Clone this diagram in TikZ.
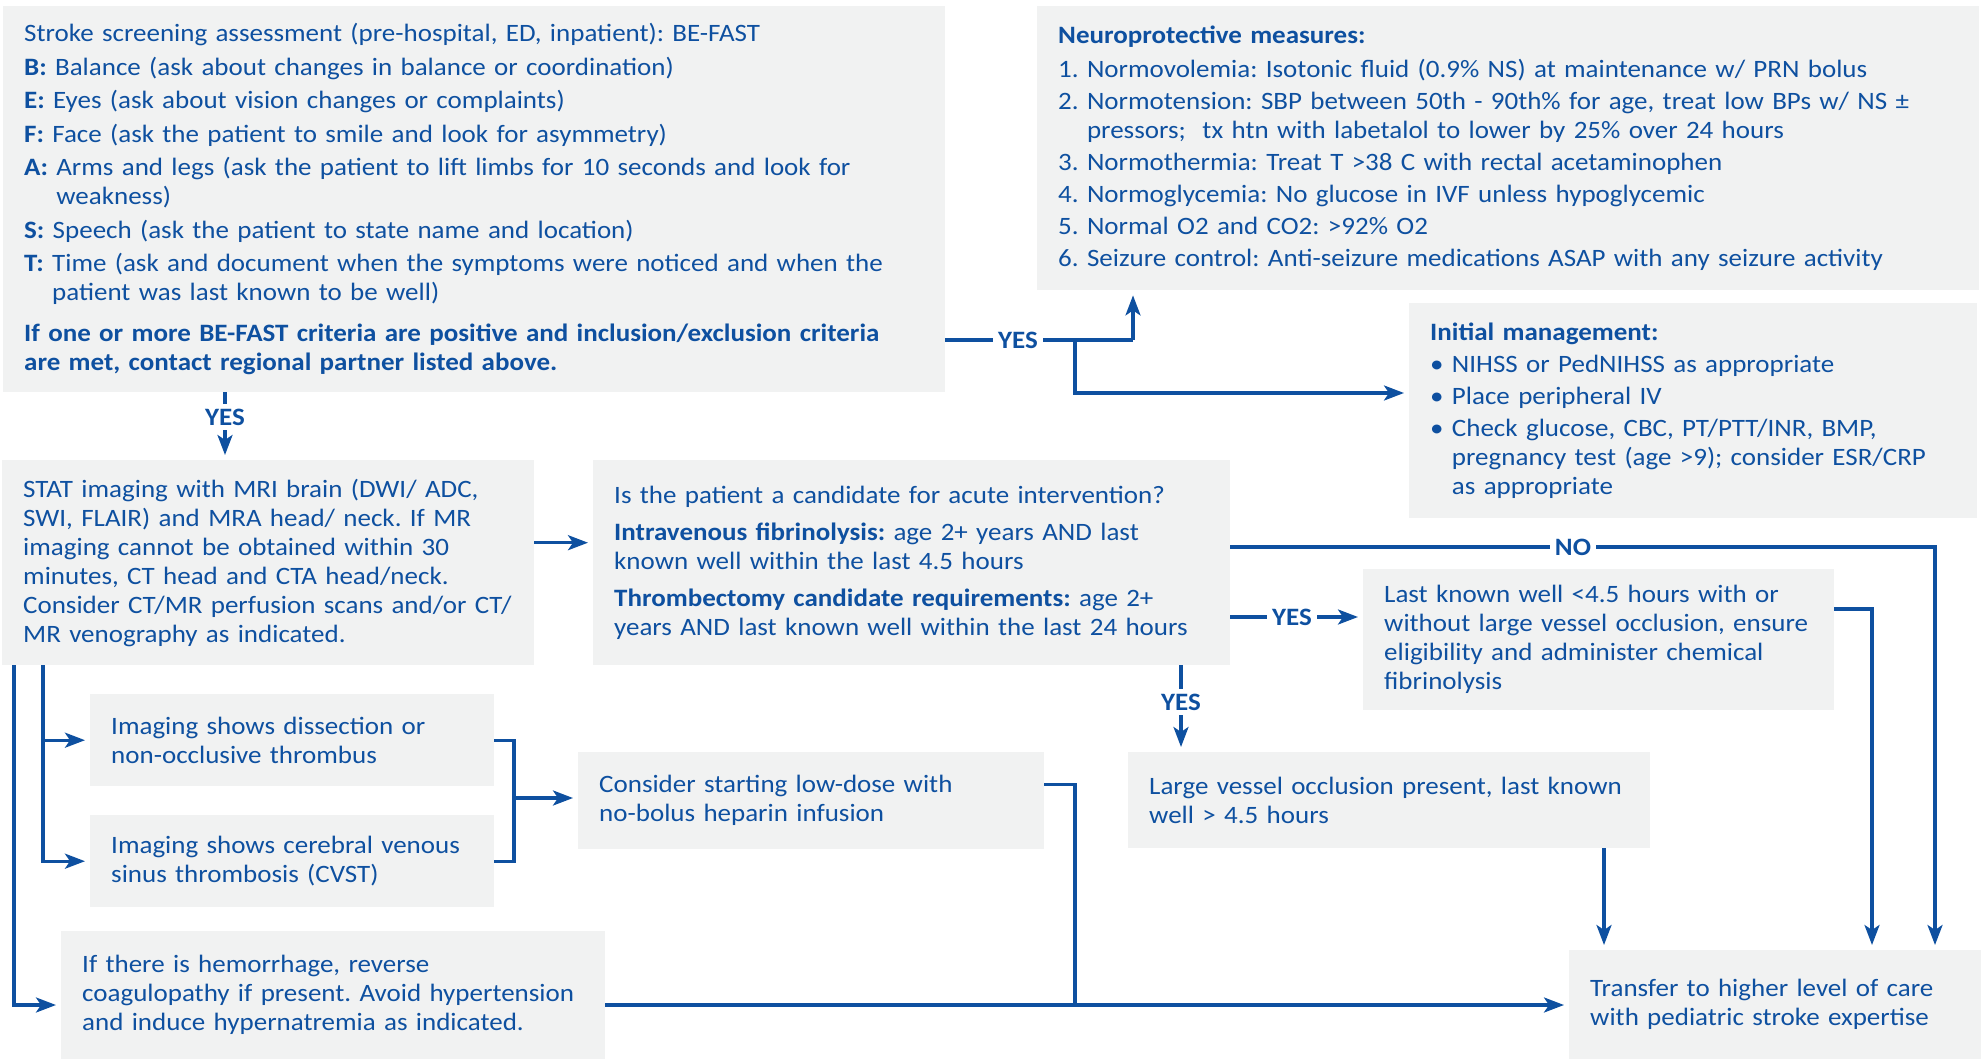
\documentclass[tikz,border=0pt]{standalone}
\usepackage{fontspec}
\setmainfont{Carlito}[FakeStretch=1.08]
\usepackage{tikz}
\usetikzlibrary{arrows.meta,calc,positioning}

\definecolor{strokeblue}{RGB}{14,80,160}
\definecolor{boxgrey}{RGB}{241,242,242}

\frenchspacing

\begin{document}
\begin{tikzpicture}
[
                  x =  1pt,
                  y = -1pt,
               ->, >= {Stealth[length=20pt,width=15pt,inset=5pt]},
               font = \fontsize{25}{29}\selectfont,
         box/.style = { draw=none, fill=boxgrey, text=strokeblue, anchor=north west, align=left, inner xsep=21pt, inner ysep=0pt },
      answer/.style = { draw=none, fill=none, text=strokeblue, font=\fontsize{25}{29}\selectfont\bfseries, inner sep=5pt },
        wire/.style = { draw=strokeblue, line width=3.2pt, - },
       arrow/.style = { draw=strokeblue, line width=3.2pt, ->, shorten >=5pt }
]

    \useasboundingbox (0,0) rectangle (1981,1059);

    \node (befast)   at (3,6)      [box, text width=900pt, minimum height=386pt]
        {Stroke screening assessment (pre-hospital, ED, inpatient): BE-FAST\\[4.5pt]
         \textbf{B:} Balance (ask about changes in balance or coordination)\\[4.5pt]
         \textbf{E:} Eyes (ask about vision changes or complaints)\\[4.5pt]
         \textbf{F:} Face (ask the patient to smile and look for asymmetry)\\[4.5pt]
         \textbf{A:} Arms and legs (ask the patient to lift limbs for 10 seconds and look for\\
         \hphantom{\textbf{A:} }weakness)\\[4.5pt]
         \textbf{S:} Speech (ask the patient to state name and location)\\[4.5pt]
         \textbf{T:} Time (ask and document when the symptoms were noticed and when the\\
         \hphantom{\textbf{T:} }patient was last known to be well)\\[12pt]
         \textbf{If one or more BE-FAST criteria are positive and inclusion/exclusion criteria}\\
         \textbf{are met, contact regional partner listed above.}};
    \node (neuro)    at (1037,6)   [box, text width=900pt, minimum height=284pt]
        {\textbf{Neuroprotective measures:}\\[5pt]
         1. Normovolemia: Isotonic fluid (0.9\% NS) at maintenance w/ PRN bolus\\[3pt]
         2. Normotension: SBP between 50th - 90th\% for age, treat low BPs w/ NS ±\\
         \hphantom{2. }pressors; \ tx htn with labetalol to lower by 25\% over 24 hours\\[3pt]
         3. Normothermia: Treat T >38 C with rectal acetaminophen\\[3pt]
         4. Normoglycemia: No glucose in IVF unless hypoglycemic\\[3pt]
         5. Normal O2 and CO2: >92\% O2\\[3pt]
         6. Seizure control: Anti-seizure medications ASAP with any seizure activity};
    \node (initial)  at (1409,303) [box, text width=526pt, minimum height=215pt]
        {\textbf{Initial management:}\\[3pt]
         \textbullet\ NIHSS or PedNIHSS as appropriate\\[3pt]
         \textbullet\ Place peripheral IV\\[3pt]
         \textbullet\ Check glucose, CBC, PT/PTT/INR, BMP,\\
         \hphantom{\textbullet\ }pregnancy test (age >9); consider ESR/CRP\\
         \hphantom{\textbullet\ }as appropriate};
    \node (stat)     at (2,460)    [box, text width=490pt, minimum height=205pt]
        {STAT imaging with MRI brain (DWI/ ADC,\\
         SWI, FLAIR) and MRA head/ neck. If MR\\
         imaging cannot be obtained within 30\\
         minutes, CT head and CTA head/neck.\\
         Consider CT/MR perfusion scans and/or CT/\\
         MR venography as indicated.};
    \node (cand)     at (593,460)  [box, text width=595pt, minimum height=205pt]
        {Is the patient a candidate for acute intervention?\\[8pt]
         \textbf{Intravenous fibrinolysis:} age 2+ years AND last\\
         known well within the last 4.5 hours\\[8pt]
         \textbf{Thrombectomy candidate requirements:} age 2+\\
         years AND last known well within the last 24 hours};
    \node (lkw)      at (1363,569) [box, text width=429pt, minimum height=141pt]
        {Last known well <4.5 hours with or\\
         without large vessel occlusion, ensure\\
         eligibility and administer chemical\\
         fibrinolysis};
    \node (dissect)  at (90,694)   [box, text width=362pt, minimum height=92pt]
        {Imaging shows dissection or\\
         non-occlusive thrombus};
    \node (cvst)     at (90,815)   [box, text width=362pt, minimum height=92pt]
        {Imaging shows cerebral venous\\
         sinus thrombosis (CVST)};
    \node (heparin)  at (578,752)  [box, text width=424pt, minimum height=97pt]
        {Consider starting low-dose with\\
         no-bolus heparin infusion};
    \node (lvo)      at (1128,752) [box, text width=480pt, minimum height=96pt]
        {Large vessel occlusion present, last known\\
         well > 4.5 hours};
    \node (hemo)     at (61,931)   [box, text width=502pt, minimum height=128pt]
        {If there is hemorrhage, reverse\\
         coagulopathy if present. Avoid hypertension\\
         and induce hypernatremia as indicated.};
    \node (transfer) at (1569,950) [box, text width=370pt, minimum height=109pt]
        {Transfer to higher level of care\\
         with pediatric stroke expertise};

    \node (yesneuro) at (1018,340) [answer] {YES};
    \node (yesstat)  at (225,417)  [answer] {YES};
    \node (nocand)   at (1573,547) [answer] {NO};
    \node (yeslkw)   at (1292,617) [answer] {YES};
    \node (yeslvo)   at (1181,702) [answer] {YES};

    \coordinate (neurofork)  at (1133,340);
    \coordinate (initfork)   at (1075,340);
    \coordinate (initbend)   at (1075,393);
    \coordinate (nocorner)   at (1935,547);
    \coordinate (lkwcorner)  at (1872,609);
    \coordinate (lvodrop)    at (1604,848);
    \coordinate (outerdrop)  at (14,665);
    \coordinate (innerdrop)  at (43,665);
    \coordinate (bracket)    at (514,798);
    \coordinate (hepdrop)    at (1075,1005);
    \coordinate (bottomrow)  at (0,1005);

    \draw [wire]  (befast.east |- yesneuro) -- (yesneuro.west);
    \draw [wire]  (yesneuro.east) -- (neurofork);
    \draw [arrow] (neurofork) -- (neuro.south -| neurofork);
    \draw [arrow] (initfork) -- (initbend) -- (initial.west |- initbend);

    \draw [wire]  (befast.south -| yesstat) -- (yesstat.north);
    \draw [arrow] (yesstat.south) -- (stat.north -| yesstat);
    \draw [arrow] ($(stat.east)+(0,-20)$) -- ($(cand.west)+(0,-20)$);

    \draw [wire]  (cand.east |- nocand) -- (nocand.west);
    \draw [arrow] (nocand.east) -| (transfer.north -| nocorner);
    \draw [wire]  (cand.east |- yeslkw) -- (yeslkw.west);
    \draw [arrow] (yeslkw.east) -- (lkw.west |- yeslkw);
    \draw [wire]  (cand.south -| yeslvo) -- (yeslvo.north);
    \draw [arrow] (yeslvo.south) -- (lvo.north -| yeslvo);

    \draw [arrow] (lkw.east |- lkwcorner) -| (transfer.north -| lkwcorner);
    \draw [arrow] (lvo.south -| lvodrop) -- (transfer.north -| lvodrop);

    \draw [arrow] (stat.south -| outerdrop) |- (hemo.west |- bottomrow);
    \draw [arrow] (stat.south -| innerdrop) |- (cvst.west);
    \draw [arrow] (innerdrop |- dissect.west) -- (dissect.west);
    \draw [wire]  (dissect.east) -| (bracket) |- (cvst.east);
    \draw [arrow] (bracket) -- (heparin.west |- bracket);
    \draw [wire]  ($(heparin.east)+(0,-16)$) -| (hepdrop);
    \draw [arrow] (hemo.east |- bottomrow) -- (transfer.west |- bottomrow);

\end{tikzpicture}
\end{document}
